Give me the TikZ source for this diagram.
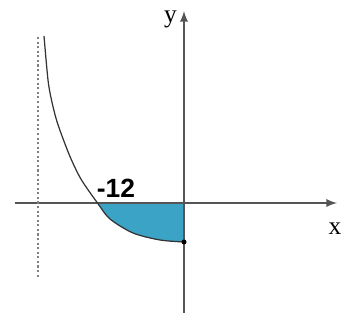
\documentclass[tikz,border=0pt]{standalone}
\usepackage{fontspec}
\setmainfont{Liberation Serif}
\newfontfamily\labelfont{Liberation Sans}
\usepackage{xcolor}
\definecolor{areablue}{RGB}{58,163,198}
\definecolor{axisgray}{RGB}{85,85,85}

\begin{document}
\begin{tikzpicture}[font=\small,
  axis/.style={axisgray, line width=1.1pt, -latex},
  curve/.style={black!80, line width=0.7pt}]
  \useasboundingbox (-3.68,-2.42) rectangle (3.4,4.06);
  % area under the x-axis
  \fill[areablue] plot[smooth] coordinates
    {(-1.73,0) (-1.48,-0.32) (-1.02,-0.6) (-0.48,-0.74) (0,-0.78)} -- (0,0) -- cycle;
  % axes
  \coordinate (xstart) at (-3.38,0);
  \coordinate (xend) at (3.06,0);
  \coordinate (ystart) at (0,-2.2);
  \coordinate (yend) at (0,3.84);
  \draw[axis] (xstart) -- (xend);
  \draw[axis] (ystart) -- (yend);
  \node[font=\Large] (xlab) at (3.02,-0.52) {x};
  \node[font=\Large] (ylab) at (-0.27,3.68) {y};
  % asymptote
  \coordinate (atop) at (-2.92,3.32);
  \coordinate (abot) at (-2.92,-1.48);
  \draw[gray, line width=1.2pt, dash pattern=on 1.2pt off 1.4pt] (atop) -- (abot);
  % graph
  \draw[curve] plot[smooth] coordinates
    {(-2.8,3.34) (-2.72,2.46) (-2.65,2.06) (-2.55,1.66) (-2.41,1.26) (-2.25,0.86)
     (-2.05,0.46) (-1.73,0) (-1.48,-0.32) (-1.02,-0.6) (-0.48,-0.74) (0,-0.78)};
  \fill[black] (0,-0.78) circle (0.05);
  \node[font=\labelfont\bfseries\fontsize{15}{18}\selectfont] (root) at (-1.36,0.3) {-12};
\end{tikzpicture}
\end{document}
